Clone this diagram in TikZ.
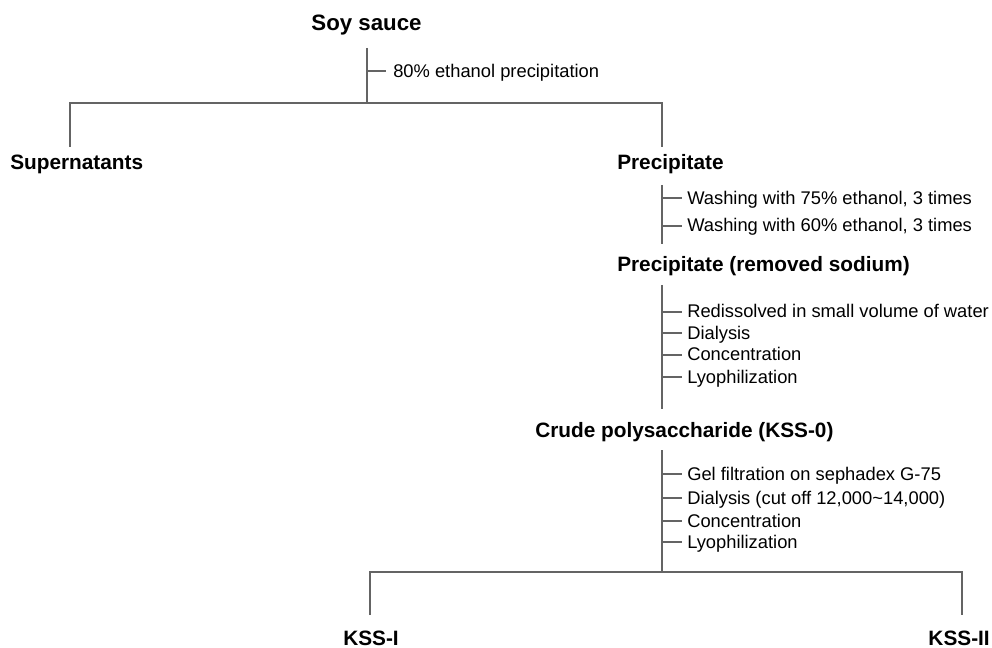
\documentclass[tikz,border=0pt]{standalone}
\usepackage{fontspec}
\setmainfont{Liberation Sans}
\definecolor{linegray}{RGB}{100,100,100}
\begin{document}
\begin{tikzpicture}[x=0.75pt,y=-0.75pt,
  conn/.style={draw=linegray,line width=1.5pt},
  tickln/.style={draw=linegray,line width=1.3pt},
  title/.style={inner sep=0pt,font=\bfseries\fontsize{16.7}{18}\selectfont},
  stage/.style={inner sep=0pt,font=\bfseries\fontsize{15.6}{17}\selectfont},
  steptext/.style={inner sep=0pt,anchor=base west,font=\fontsize{13.75}{15}\selectfont}]
\useasboundingbox (0,0) rectangle (992,648);

% main nodes
\node[title,anchor=base] (soy) at (366.5,31) {Soy sauce};
\node[stage,anchor=base west] (sup) at (10,170) {Supernatants};
\node[stage,anchor=base west] (pre) at (617,170) {Precipitate};
\node[stage,anchor=base west] (prs) at (617,272) {Precipitate (removed sodium)};
\node[stage,anchor=base west] (crude) at (535,437) {Crude polysaccharide (KSS-0)};
\node[stage,anchor=base west] (k1) at (343,645) {KSS-I};
\node[stage,anchor=base east] (k2) at (990,645) {KSS-II};

% step texts
\node[steptext] (t80) at (393,78) {80\% ethanol precipitation};
\node[steptext] (w75) at (687,205) {Washing with 75\% ethanol, 3 times};
\node[steptext] (w60) at (687,232) {Washing with 60\% ethanol, 3 times};
\node[steptext] (rd) at (687,318) {Redissolved in small volume of water};
\node[steptext] (d1) at (687,340) {Dialysis};
\node[steptext] (c1) at (687,361) {Concentration};
\node[steptext] (l1) at (687,383) {Lyophilization};
\node[steptext] (gel) at (687,480) {Gel filtration on sephadex G-75};
\node[steptext] (d2) at (687,504) {Dialysis (cut off 12,000\textasciitilde 14,000)};
\node[steptext] (c2) at (687,527) {Concentration};
\node[steptext] (l2) at (687,548) {Lyophilization};

% coordinates of the tree
\coordinate (a0) at (367,48);
\coordinate (a1) at (367,103);
\coordinate (aL) at (70,103);
\coordinate (aR) at (662,103);
\coordinate (aLb) at (70,147);
\coordinate (aRb) at (662,147);
\coordinate (b0) at (662,185);
\coordinate (b1) at (662,244);
\coordinate (c0) at (662,285);
\coordinate (c1b) at (662,409);
\coordinate (e0) at (662,450);
\coordinate (e1) at (662,572);
\coordinate (eL) at (370,572);
\coordinate (eR) at (962,572);
\coordinate (eLb) at (370,615);
\coordinate (eRb) at (962,615);

\draw[conn] (a0) -- (a1);
\draw[conn] (aLb) -- (aL) -- (aR) -- (aRb);
\draw[conn] (b0) -- (b1);
\draw[conn] (c0) -- (c1b);
\draw[conn] (e0) -- (e1);
\draw[conn] (eLb) -- (eL) -- (eR) -- (eRb);

% ticks
\coordinate (k80a) at (368,71);  \coordinate (k80b) at (386,71);
\draw[tickln] (k80a) -- (k80b);
\foreach \n/\yy in {w75/198,w60/226,rd/312,d1/333,c1/355,l1/377,gel/474,d2/498,c2/521,l2/542}{
  \coordinate (\n a) at (663,\yy);
  \coordinate (\n b) at (682,\yy);
  \draw[tickln] (\n a) -- (\n b);
}
\end{tikzpicture}
\end{document}
